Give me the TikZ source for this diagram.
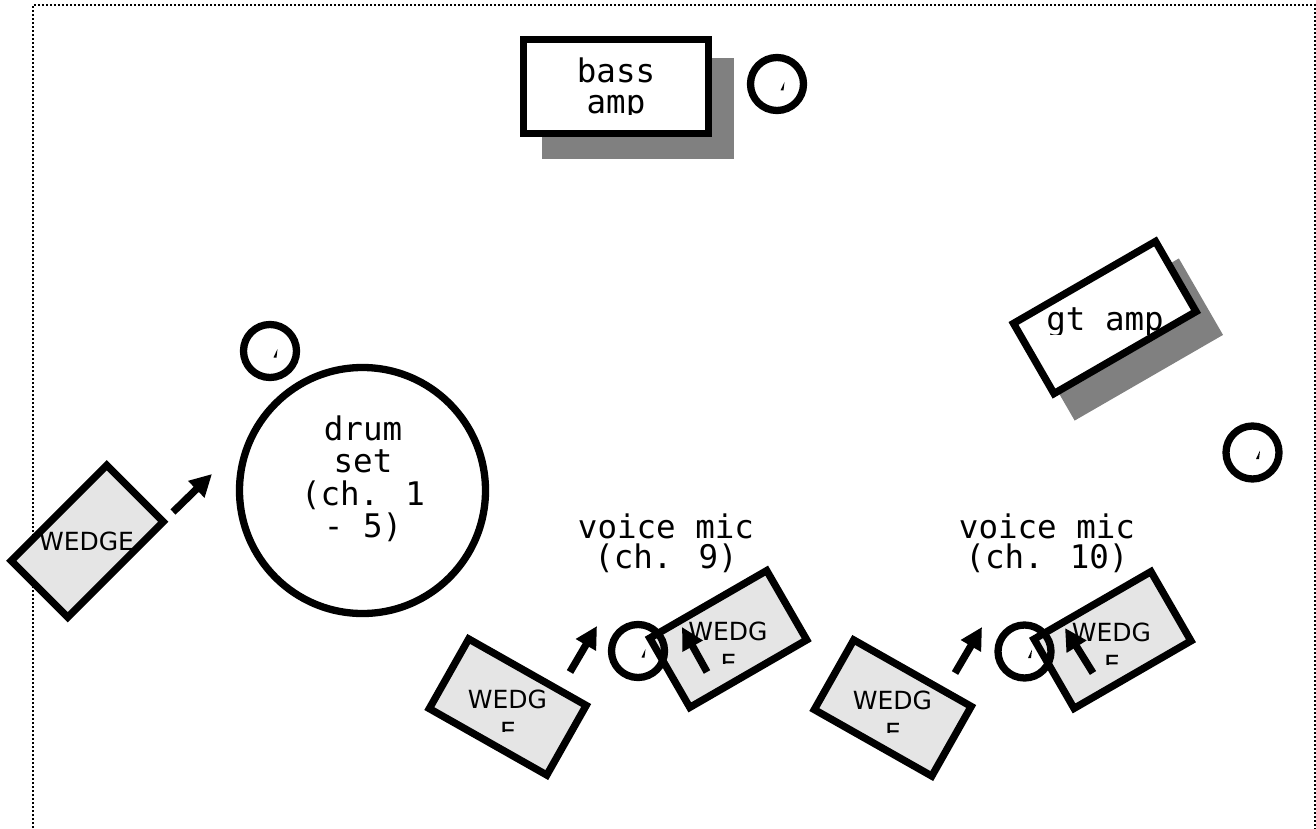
\documentclass[tikz,border=0pt]{standalone}
\usepackage{fontspec}
\newfontfamily\monof{DejaVu Sans Mono}
\newfontfamily\sansf{DejaVu Sans}
\usetikzlibrary{arrows.meta}
\tikzset{
  ol/.style={line width=7.3pt, draw=black, line join=miter},
  shadowbox/.style={fill=gray, draw=gray, line width=7.3pt},
  ampbox/.style={ol, fill=white},
  wedgebox/.style={ol, fill=black!10},
  mic/.style={circle, draw=black, line width=7.3pt, minimum size=53pt, inner sep=0pt},
  drumcircle/.style={circle, draw=black, line width=7.3pt, minimum size=246pt, inner sep=0pt},
  arr/.style={line width=7.3pt, -{Triangle[length=22pt,width=22pt]}},
  lbl/.style={font=\monof\fontsize{32.5}{32}\selectfont, inner sep=0pt, anchor=base},
  wlbl/.style={font=\sansf\fontsize{25}{32}\selectfont, inner sep=0pt, anchor=base},
  border/.style={line width=2pt, dash pattern=on 2pt off 2pt},
}
\newcommand{\mictick}[2]{\fill (#1+3.5,#2+6.5) -- (#1+7.5,#2-2) -- (#1+6.5,#2+6.5) -- cycle;}
\begin{document}
\begin{tikzpicture}[x=1pt,y=-1pt]
\useasboundingbox (0,0) rectangle (1316,829);
% border
\draw[border] (33,840) -- (33,5) -- (1315,5) -- (1315,840);

% bass amp
\draw[shadowbox] (545.65,61.65) rectangle (730.35,155.35);
\draw[ampbox] (523.65,39.65) rectangle (708.35,133.35);
\node[lbl] (bass) at (616,83) {bass};
\begin{scope}
  \clip (570,88) rectangle (660,115);
  \node[lbl] (amp) at (616,114) {amp};
\end{scope}

% gt amp
\draw[shadowbox, shift={(1126.75,339.5)}, rotate=30] (-82,-40.5) rectangle (82,40.5);
\draw[ampbox, shift={(1104.75,317.5)}, rotate=30] (-82,-40.5) rectangle (82,40.5);
\begin{scope}
  \clip (1030,295) rectangle (1180,334);
  \node[lbl] (gtamp) at (1105,330) {gt amp};
\end{scope}

% drum set
\node[drumcircle] (drum) at (362.5,490.5) {};
\node[lbl] (d1) at (363,440) {drum};
\node[lbl] (d2) at (363,472) {set};
\node[lbl] (d3) at (363,505) {(ch. 1};
\node[lbl] (d4) at (363,537) {- 5)};

% left wedge
\draw[wedgebox, shift={(87.25,541.25)}, rotate=45] (-67.5,-40) rectangle (67.5,40);
\node[wlbl] (w0) at (86.5,550) {WEDGE};

% pair 1 wedges
\draw[wedgebox, shift={(507.75,707)}, rotate=-29.5] (-67.5,-40) rectangle (67.5,40);
\draw[wedgebox, shift={(728.25,639)}, rotate=30] (-67.5,-40) rectangle (67.5,40);
% pair 2 wedges
\draw[wedgebox, shift={(892.75,708)}, rotate=-29.5] (-67.5,-40) rectangle (67.5,40);
\draw[wedgebox, shift={(1112.5,640)}, rotate=30] (-67.5,-40) rectangle (67.5,40);

% wedge labels
\node[wlbl] (wa) at (507.5,708) {WEDG};
\node[wlbl] (wb) at (728,640) {WEDG};
\node[wlbl] (wc) at (892.5,709) {WEDG};
\node[wlbl] (wd) at (1111.5,641) {WEDG};
\begin{scope}
  \clip (480,712) rectangle (540,731);
  \node[wlbl] (wae) at (508,740) {E};
\end{scope}
\begin{scope}
  \clip (700,644) rectangle (760,663);
  \node[wlbl] (wbe) at (728.5,672) {E};
\end{scope}
\begin{scope}
  \clip (865,713) rectangle (925,732);
  \node[wlbl] (wce) at (893,741) {E};
\end{scope}
\begin{scope}
  \clip (1085,645) rectangle (1145,664);
  \node[wlbl] (wde) at (1112,673) {E};
\end{scope}

% mics
\node[mic] (mbass) at (777,84) {};
\node[mic] (mdrum) at (270,351) {};
\node[mic] (mgt) at (1252.5,452.5) {};
\node[mic] (mv1) at (638,651) {};
\node[mic] (mv2) at (1024.5,651.5) {};
\mictick{777}{84}
\mictick{270}{351}
\mictick{1252.5}{452.5}
\mictick{638}{651}
\mictick{1024.5}{651.5}

% voice mic labels
\node[lbl] (v1a) at (666,538) {voice mic};
\node[lbl] (v1b) at (666,568) {(ch. 9)};
\node[lbl] (v2a) at (1047,538) {voice mic};
\node[lbl] (v2b) at (1047,568) {(ch. 10)};

% arrows
\coordinate (a0s) at (173,512); \coordinate (a0e) at (212,474);
\coordinate (a1s) at (570,672); \coordinate (a1e) at (597,626);
\coordinate (a2s) at (707,672); \coordinate (a2e) at (682,627);
\coordinate (a3s) at (955,673); \coordinate (a3e) at (982,627);
\coordinate (a4s) at (1093,673); \coordinate (a4e) at (1065,628);
\draw[arr] (a0s) -- (a0e);
\draw[arr] (a1s) -- (a1e);
\draw[arr] (a2s) -- (a2e);
\draw[arr] (a3s) -- (a3e);
\draw[arr] (a4s) -- (a4e);
\end{tikzpicture}
\end{document}
